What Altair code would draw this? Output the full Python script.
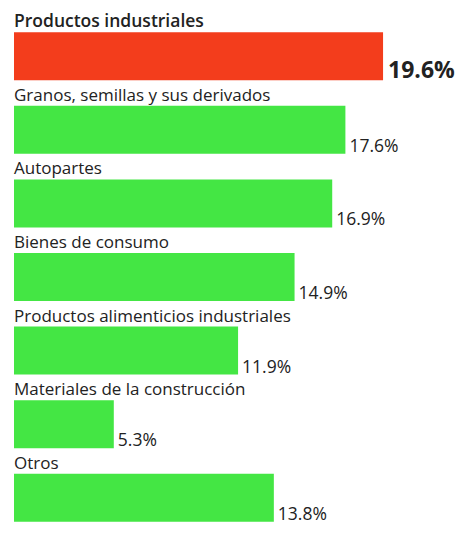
import altair as alt
import pandas as pd

categories = [
    "Productos industriales",
    "Granos, semillas y sus derivados",
    "Autopartes",
    "Bienes de consumo",
    "Productos alimenticios industriales",
    "Materiales de la construcción",
    "Otros",
]
values = [19.6, 17.6, 16.9, 14.9, 11.9, 5.3, 13.8]
highlight = [True, False, False, False, False, False, False]

df = pd.DataFrame({
    "cat": categories,
    "val": values,
    "hi": highlight,
    "lbl": [f"{v:.1f}%" for v in values],
})

y = alt.Y("cat:N", sort=categories, axis=None,
          scale=alt.Scale(paddingInner=0, paddingOuter=0))
x = alt.X("val:Q", axis=None, scale=alt.Scale(domain=[0, 23.58], nice=False, zero=True))

base = alt.Chart(df)

bars = base.mark_bar(height=48, yOffset=9.5).encode(
    x=x, y=y,
    color=alt.Color("hi:N", scale=alt.Scale(domain=[True, False], range=["#F33D1C", "#44E644"]), legend=None),
)

names_hi = base.transform_filter("datum.hi").mark_text(
    align="left", baseline="alphabetic", dy=-19.5, font="Open Sans",
    fontSize=17.5, fontWeight=600, color="#222222").encode(x=alt.value(0), y=y, text="cat:N")
names_lo = base.transform_filter("!datum.hi").mark_text(
    align="left", baseline="alphabetic", dy=-19.5, font="Open Sans",
    fontSize=17, fontWeight=400, color="#222222").encode(x=alt.value(0), y=y, text="cat:N")

vals_hi = base.transform_filter("datum.hi").mark_text(
    align="left", baseline="alphabetic", dx=5, dy=31.5, font="Open Sans",
    fontSize=23, fontWeight=700, color="#222222").encode(x=x, y=y, text="lbl:N")
vals_lo = base.transform_filter("!datum.hi").mark_text(
    align="left", baseline="alphabetic", dx=4, dy=31.5, font="Open Sans",
    fontSize=17.5, fontWeight=400, color="#222222").encode(x=x, y=y, text="lbl:N")

chart = (bars + names_hi + names_lo + vals_hi + vals_lo).properties(
    width=444, height=515,
    padding={"left": 6, "top": 2, "right": 0, "bottom": 0},
    autosize=alt.AutoSizeParams(type="none"),
    background="white",
).configure_view(stroke=None)

chart.save("out.html", embed_options={"renderer": "svg", "actions": False})
